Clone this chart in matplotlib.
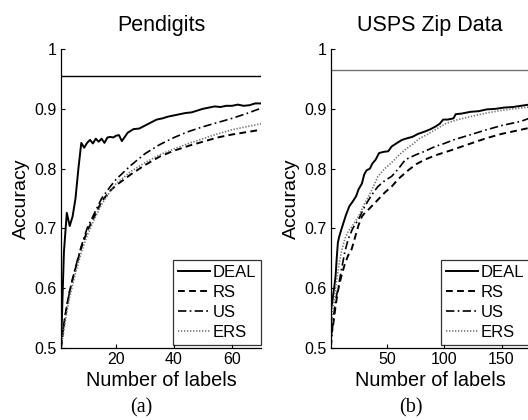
import matplotlib
matplotlib.use("Agg")
import matplotlib.pyplot as plt

plt.rcParams['font.family'] = ['Liberation Sans', 'DejaVu Sans']

# ---------------- Panel (a): Pendigits ----------------
a_title = "Pendigits"
a_ref = 0.955
a_xticks = [20, 40, 60]
a_deal_x = [1,2,3,4,5,6,7,8,9,10,11,12,13,14,15,16,17,18,19,20,21,22,23,24,25,26,28,30,32,34,36,38,40,42,44,46,48,50,52,54,56,58,60,62,64,66,68,70]
a_deal_y = [0.50,0.66,0.726,0.704,0.72,0.75,0.80,0.843,0.835,0.843,0.848,0.842,0.85,0.845,0.85,0.843,0.852,0.853,0.852,0.855,0.856,0.846,0.853,0.860,0.863,0.866,0.867,0.872,0.877,0.882,0.884,0.887,0.889,0.891,0.893,0.894,0.897,0.900,0.902,0.904,0.903,0.905,0.905,0.907,0.905,0.906,0.909,0.909]
a_base_x = [1,2,3,4,5,6,8,10,12,15,18,20,25,30,35,40,45,50,55,60,65,70]
a_us_y  = [0.50,0.54,0.57,0.595,0.615,0.635,0.67,0.70,0.72,0.75,0.77,0.782,0.805,0.825,0.84,0.852,0.862,0.870,0.877,0.884,0.892,0.901]
a_rs_y  = [0.50,0.54,0.57,0.595,0.615,0.633,0.668,0.695,0.715,0.745,0.763,0.772,0.79,0.806,0.82,0.83,0.838,0.845,0.852,0.857,0.861,0.865]
a_ers_y = [0.50,0.53,0.56,0.585,0.605,0.625,0.66,0.688,0.71,0.74,0.762,0.775,0.795,0.81,0.823,0.833,0.842,0.85,0.858,0.865,0.870,0.875]

# ---------------- Panel (b): USPS Zip Data ----------------
b_title = "USPS Zip Data"
b_ref = 0.965
b_xticks = [50, 100, 150]
b_deal_x = [1,2,3,4,5,6,7,8,10,12,14,17,20,23,25,28,30,32,35,37,40,43,47,51,54,58,63,68,72,77,83,88,92,96,99,103,108,110,115,123,130,137,145,152,160,167,174]
b_deal_y = [0.565,0.575,0.59,0.604,0.62,0.65,0.676,0.685,0.698,0.71,0.722,0.737,0.745,0.754,0.765,0.775,0.79,0.797,0.80,0.808,0.815,0.826,0.828,0.829,0.837,0.842,0.848,0.851,0.853,0.858,0.862,0.866,0.87,0.875,0.882,0.882,0.884,0.891,0.892,0.895,0.896,0.899,0.900,0.902,0.903,0.905,0.907]
b_ers_x = [1,3,5,8,10,13,16,20,25,30,34,38,42,48,54,60,66,72,78,85,92,102,112,123,137,152,165,174]
b_ers_y = [0.53,0.57,0.6,0.64,0.66,0.682,0.695,0.705,0.72,0.74,0.754,0.77,0.787,0.80,0.81,0.822,0.832,0.84,0.85,0.857,0.865,0.876,0.882,0.887,0.893,0.898,0.901,0.903]
b_us_x = [1,3,5,7,10,13,16,20,25,30,34,38,42,48,54,60,66,75,83,92,100,108,120,137,150,167,174]
b_us_y = [0.50,0.55,0.58,0.598,0.63,0.66,0.682,0.70,0.715,0.735,0.748,0.76,0.77,0.78,0.787,0.80,0.815,0.823,0.829,0.837,0.842,0.848,0.855,0.865,0.872,0.879,0.884]
b_rs_x = [1,3,5,7,10,13,16,19,22,25,28,31,34,38,42,48,54,60,69,76,83,92,100,108,120,137,150,167,174]
b_rs_y = [0.52,0.54,0.57,0.595,0.62,0.64,0.655,0.665,0.685,0.705,0.72,0.727,0.732,0.74,0.748,0.76,0.77,0.783,0.798,0.808,0.815,0.822,0.827,0.832,0.84,0.851,0.858,0.865,0.868]

yticks = [0.5, 0.6, 0.7, 0.8, 0.9, 1.0]
ytick_labels = ["0.5", "0.6", "0.7", "0.8", "0.9", "1"]

fig = plt.figure(figsize=(5.28, 4.2), dpi=100)

def panel(rect, title, ref, ref_color, xlim, xticks, deal, rs, us, ers, caption, cap_x):
    ax = fig.add_axes(rect)
    ax.axhline(ref, color=ref_color, lw=1.0)
    ax.plot(*deal, color='black', lw=1.4, ls='-', label='DEAL')
    ax.plot(*rs, color='black', lw=1.4, ls=(0, (3.5, 2.2)), label='RS')
    ax.plot(*us, color='black', lw=1.2, ls=(0, (5, 2, 1, 2)), label='US')
    ax.plot(*ers, color='0.45', lw=1.2, ls=(0, (0.8, 1.0)), label='ERS')
    ax.set_xlim(*xlim)
    ax.set_ylim(0.5, 1.0)
    ax.set_xticks(xticks)
    ax.set_yticks(yticks)
    ax.set_yticklabels(ytick_labels)
    ax.tick_params(direction='in', length=3, width=0.8, labelsize=11.5, pad=3)
    for s in ['top', 'right']:
        ax.spines[s].set_visible(False)
    for s in ['left', 'bottom']:
        ax.spines[s].set_linewidth(0.9)
    ax.set_title(title, fontsize=15.5, pad=13)
    ax.set_xlabel("Number of labels", fontsize=14.3, labelpad=3)
    ax.set_ylabel("Accuracy", fontsize=14, labelpad=3)
    leg = ax.legend(loc='lower right', bbox_to_anchor=(1.0, 0.01), fontsize=12,
                    frameon=True, fancybox=False, edgecolor='black',
                    handlelength=1.9, handletextpad=0.15, borderpad=0.3,
                    labelspacing=0.3, borderaxespad=0.0)
    leg.get_frame().set_linewidth(0.9)
    ax.text(cap_x, -0.20, caption, transform=ax.transAxes,
            ha='center', va='center', fontsize=14.5, family='Liberation Serif')
    return ax

panel([61/528, 72/420, 200/528, 299/420], a_title, a_ref, 'black', (1, 70), a_xticks,
      (a_deal_x, a_deal_y), (a_base_x, a_rs_y), (a_base_x, a_us_y), (a_base_x, a_ers_y), "(a)", 0.40)
panel([331/528, 72/420, 198/528, 299/420], b_title, b_ref, '0.45', (1, 174), b_xticks,
      (b_deal_x, b_deal_y), (b_rs_x, b_rs_y), (b_us_x, b_us_y), (b_ers_x, b_ers_y), "(b)", 0.405)

fig.savefig("out.png", dpi=100)
